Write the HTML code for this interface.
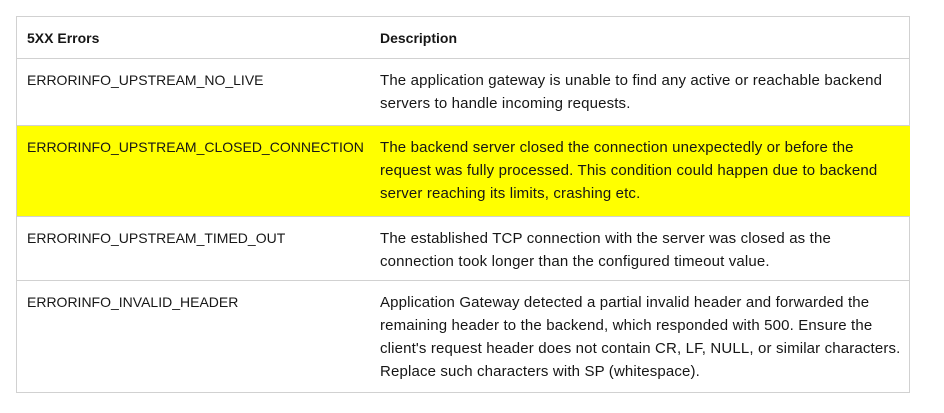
<!DOCTYPE html>
<html><head><style>
body{margin:0;width:944px;height:413px;background:#fff;font-family:"Liberation Sans",sans-serif;font-size:14px;color:#161616;position:relative;overflow:hidden}
.t{position:absolute;left:16px;top:16px;width:894px;height:377px;border:1px solid #d1d1d1;box-sizing:border-box}
.r{position:absolute;left:17px;width:893px;border-top:1px solid #d1d1d1}
.c{position:absolute;line-height:23px;white-space:nowrap}
.d{font-size:15px;letter-spacing:0.15px}
.y{background:#ffff00}
b{font-weight:bold}
</style></head><body>
<div class="t"></div>
<div class="r" style="top:58px;height:0"></div>
<div class="r y" style="top:125px;height:91px"></div>
<div class="r" style="top:216px;height:0"></div>
<div class="r" style="top:280px;height:0"></div>
<div class="c" style="left:27px;top:27px"><b>5XX Errors</b></div>
<div class="c" style="left:380px;top:27px"><b>Description</b></div>
<div class="c" style="left:27px;top:69px">ERRORINFO_UPSTREAM_NO_LIVE</div>
<div class="c d" style="left:380px;top:69px">The application gateway is unable to find any active or reachable backend<br>servers to handle incoming requests.</div>
<div class="c" style="left:27px;top:136px">ERRORINFO_UPSTREAM_CLOSED_CONNECTION</div>
<div class="c d" style="left:380px;top:136px">The backend server closed the connection unexpectedly or before the<br>request was fully processed. This condition could happen due to backend<br>server reaching its limits, crashing etc.</div>
<div class="c" style="left:27px;top:227px">ERRORINFO_UPSTREAM_TIMED_OUT</div>
<div class="c d" style="left:380px;top:227px">The established TCP connection with the server was closed as the<br>connection took longer than the configured timeout value.</div>
<div class="c" style="left:27px;top:291px">ERRORINFO_INVALID_HEADER</div>
<div class="c d" style="left:380px;top:291px">Application Gateway detected a partial invalid header and forwarded the<br>remaining header to the backend, which responded with 500. Ensure the<br>client's request header does not contain CR, LF, NULL, or similar characters.<br>Replace such characters with SP (whitespace).</div>
</body></html>
